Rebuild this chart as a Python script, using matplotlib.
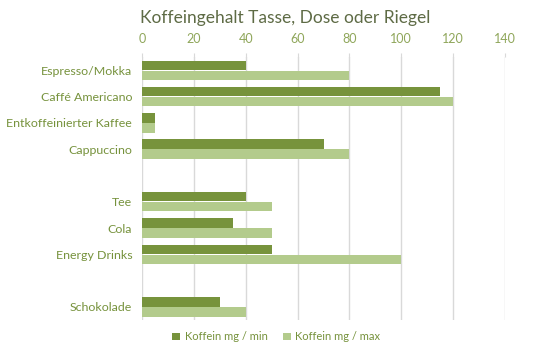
import numpy as np
import matplotlib
matplotlib.use('Agg')
import matplotlib.pyplot as plt

plt.rcParams['font.family'] = ['Lato', 'DejaVu Sans']

categories = ['Espresso/Mokka', 'Caffé Americano', 'Entkoffeinierter Kaffee', 'Cappuccino', '',
              'Tee', 'Cola', 'Energy Drinks', '', 'Schokolade']
koffein_min = [40, 115, 5, 70, np.nan, 40, 35, 50, np.nan, 30]
koffein_max = [80, 120, 5, 80, np.nan, 50, 50, 100, np.nan, 40]
x_ticks = [0, 20, 40, 60, 80, 100, 120, 140]

dark = '#77933C'
light = '#B3CB8C'
label_col = '#76923C'

fig = plt.figure(figsize=(5.46, 3.53), dpi=100)
ax = fig.add_axes([0.260, 0.0935, 0.665, 0.7445])

y = np.arange(len(categories))
h = 0.36
ax.barh(y - 0.19, koffein_min, height=h, color=dark, label='Koffein mg / min', zorder=3)
ax.barh(y + 0.19, koffein_max, height=h, color=light, label='Koffein mg / max', zorder=3)

ax.set_ylim(len(categories) - 0.5, -0.5)
ax.set_xlim(0, 140)
ax.set_yticks(y)
ax.set_yticklabels(categories, fontsize=8.9, color=label_col)
ax.xaxis.tick_top()
ax.set_xticks(x_ticks)
ax.set_xticklabels([str(t) for t in x_ticks], fontsize=9, color='#8FA65A')
ax.tick_params(axis='y', length=0, pad=7)
ax.tick_params(axis='x', length=3, color='#D9D9D9', pad=6)
ax.grid(axis='x', color='#D9D9D9', linewidth=1, zorder=0)
for s in ax.spines.values():
    s.set_visible(False)

fig.text(0.522, 0.948, 'Koffeingehalt Tasse, Dose oder Riegel', ha='center', va='center',
         fontsize=12.5, color='#5E6B45')

leg = ax.legend(loc='upper center', bbox_to_anchor=(0.37, -0.005), ncol=2, frameon=False,
                fontsize=8, handlelength=0.7, handleheight=0.7, handletextpad=0.4, columnspacing=1.4)
for t in leg.get_texts():
    t.set_color(label_col)

fig.savefig('out.png', dpi=100)
